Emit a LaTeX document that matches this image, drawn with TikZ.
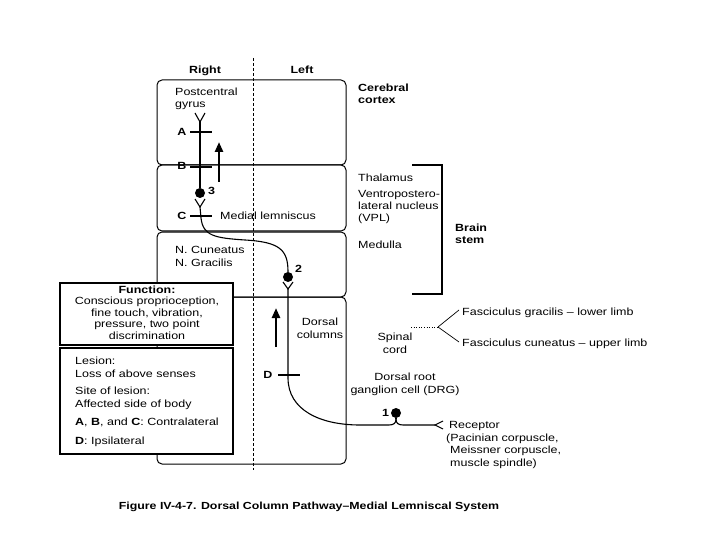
\documentclass[tikz,border=0pt]{standalone}
\usepackage{fontspec}
\setmainfont{Liberation Sans}[FakeStretch=1.2]
\usetikzlibrary{arrows.meta}
\newcommand\figfont{\fontsize{10.4}{12.5}\selectfont}
\newcommand\capfont{\fontsize{10.3}{12.5}\selectfont}
\begin{document}
\begin{tikzpicture}[x=1pt,y=-1pt,
  txt/.style={inner sep=0pt, anchor=base west, font=\figfont},
  txtc/.style={inner sep=0pt, anchor=base, font=\figfont},
  bld/.style={font=\figfont\bfseries},
  region/.style={draw, line width=1pt, rounded corners=5pt},
  infobox/.style={draw, line width=1.1pt, fill=white, inner sep=0pt},
  axon/.style={line width=1.1pt},
  tickmark/.style={line width=2.2pt},
  upar/.style={line width=2.5pt, -{Triangle[length=10pt,width=8pt]}},
  soma/.style={circle, fill, inner sep=0pt, minimum size=10pt},
]
\useasboundingbox (0,0) rectangle (720,540);
\fill[white] (0,0) rectangle (720,540);

% regions
\draw[region] (157,80) rectangle (346,165);
\draw[region] (157,165) rectangle (346,231);
\draw[region] (157,232) rectangle (346,297);
\draw[region] (157,297) rectangle (346,464);
\draw[dash pattern=on 3pt off 2pt, line width=0.7pt] (253,58) -- (253,470);

% headers
\node[txtc, bld] (right) at (205,73.5) {Right};
\node[txtc, bld] (left) at (302,73.5) {Left};

% left column texts
\node[txt] (pc1) at (175,95.5) {Postcentral};
\node[txt] (pc2) at (175,108) {gyrus};
\node[txt] (ncun) at (175,254) {N. Cuneatus};
\node[txt] (ngra) at (175,266.5) {N. Gracilis};
\node[txt] (ml) at (220,219.5) {Medial lemniscus};
\node[txtc] (dc1) at (320,325.5) {Dorsal};
\node[txtc] (dc2) at (320,338) {columns};

% right texts
\node[txt, bld] (cc1) at (358,91.5) {Cerebral};
\node[txt, bld] (cc2) at (358,104) {cortex};
\node[txt] (thal) at (358,181.5) {Thalamus};
\node[txt] (vpl1) at (358,197) {Ventropostero-};
\node[txt] (vpl2) at (358,209.5) {lateral nucleus};
\node[txt] (vpl3) at (358,222) {(VPL)};
\node[txt] (med) at (358,248.5) {Medulla};
\node[txt, bld] (bs1) at (455,231) {Brain};
\node[txt, bld] (bs2) at (455,243.5) {stem};
\draw[line width=1.1pt] (412,165) -- (442,165) -- (442,294) -- (412,294);

\node[txtc] (sp1) at (395,340.5) {Spinal};
\node[txtc] (sp2) at (395,353) {cord};
\coordinate (sc) at (411,327);
\coordinate (fk) at (438,327);
\draw[dotted, line width=0.6pt] (sc) -- (fk);
\draw[line width=0.7pt] (fk) -- (459,310);
\draw[line width=0.7pt] (fk) -- (459,342);
\node[txt] (fg) at (462,315) {Fasciculus gracilis -- lower limb};
\node[txt] (fc) at (462,346.5) {Fasciculus cuneatus -- upper limb};

\node[txtc] (drg1) at (405,380.5) {Dorsal root};
\node[txtc] (drg2) at (405,393) {ganglion cell (DRG)};
\node[txt] (rc1) at (449,428.5) {Receptor};
\node[txt] (rc2) at (446,441) {(Pacinian corpuscle,};
\node[txt] (rc3) at (450,453.5) {Meissner corpuscle,};
\node[txt] (rc4) at (450,466) {muscle spindle)};

% neuron 3 (thalamus -> cortex)
\coordinate (y3) at (200,122);
\draw[axon] (195,113) -- (y3) -- (205,113);
\node[soma] (s3) at (200,193) {};
\draw[axon] (y3) -- (s3);
\node[txtc, bld] (lA) at (182,135.5) {A};
\node[txtc, bld] (lB) at (182,170) {B};
\node[txtc, bld] (lC) at (182,219.5) {C};
\draw[tickmark] (190,132) -- (212,132);
\draw[tickmark] (190,167) -- (212,167);
\draw[tickmark] (190,216) -- (212,216);
\node[txt, bld] (n3) at (208,195) {3};
\coordinate (a3b) at (219,182);
\coordinate (a3t) at (219,142);
\draw[upar] (a3b) -- (a3t);

% neuron 2 (medulla -> thalamus)
\coordinate (v3) at (200,207);
\draw[axon] (195,199) -- (v3) -- (205,199);
\node[soma] (s2) at (288,277) {};
\draw[axon] (v3) -- (201,218) .. controls (203,236) and (215,238) .. (245,240)
   .. controls (280,242) and (288,250) .. (s2.north);
\node[txt, bld] (n2) at (295,272) {2};

% neuron 1 (DRG -> medulla)
\coordinate (v2) at (288,289);
\draw[axon] (283,282) -- (v2) -- (293,282);
\node[soma] (s1) at (396,413) {};
\coordinate (jn) at (396,419);
\coordinate (rtip) at (435,425);
\draw[axon] (v2) -- (288,378) .. controls (288,410) and (320,425) .. (360,425)
   -- (389,425) .. controls (394,425) and (396,423) .. (jn);
\draw[axon] (jn) .. controls (396,423) and (398,425) .. (403,425) -- (rtip);
\draw[axon] (jn) -- (s1);
\draw[axon] (443,421) -- (rtip) -- (443,429);
\node[txt, bld] (n1) at (382,416) {1};
\node[txtc, bld] (lD) at (268,378.5) {D};
\draw[tickmark] (278,375) -- (300,375);
\coordinate (a1b) at (276,347);
\coordinate (a1t) at (276,308);
\draw[upar] (a1b) -- (a1t);

% function box
\node[infobox, minimum width=173pt, minimum height=62pt] (fbox) at (146.5,314) {};
\node[txtc, bld] (f1) at (147,293) {Function:};
\node[txtc] (f2) at (147,304.5) {Conscious proprioception,};
\node[txtc] (f3) at (147,316) {fine touch, vibration,};
\node[txtc] (f4) at (147,327.5) {pressure, two point};
\node[txtc] (f5) at (147,339) {discrimination};

% lesion box
\node[infobox, minimum width=173pt, minimum height=106pt] (lbox) at (146.5,401) {};
\node[txt] (l1) at (75,364.5) {Lesion:};
\node[txt] (l2) at (75,377.5) {Loss of above senses};
\node[txt] (l3) at (75,394.5) {Site of lesion:};
\node[txt] (l4) at (75,407.5) {Affected side of body};
\node[txt] (l5) at (75,425.5) {\textbf{A}, \textbf{B}, and \textbf{C}: Contralateral};
\node[txt] (l6) at (75,444.5) {\textbf{D}: Ipsilateral};

% caption
\node[inner sep=0pt, anchor=base, font=\capfont\bfseries] (cap) at (309,509) {Figure IV-4-7. Dorsal Column Pathway--Medial Lemniscal System};
\end{tikzpicture}
\end{document}
